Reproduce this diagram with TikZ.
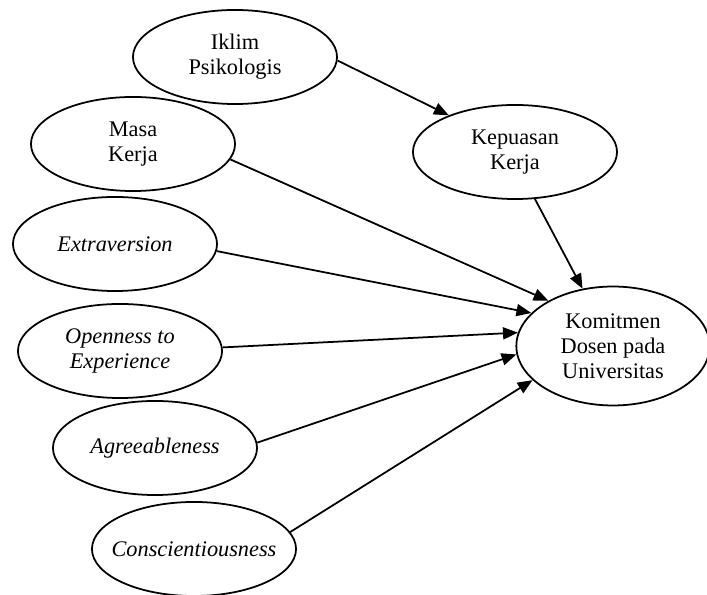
\documentclass[tikz,border=0pt]{standalone}
\usepackage{fontspec}
\setmainfont{Liberation Serif}
\usetikzlibrary{shapes.geometric,arrows.meta}

\begin{document}
\begin{tikzpicture}[x=53.8pt,y=-53.8pt,
   var/.style={ellipse,draw,line width=0.95pt,minimum width=109.8pt,minimum height=50.6pt,
      inner xsep=-6pt,inner ysep=0pt,align=center,font=\fontsize{12pt}{13.5pt}\selectfont},
   link/.style={line width=0.95pt,-{Triangle[length=8pt,width=6.5pt]}}]
   
   \useasboundingbox (0,0) rectangle (7.07,5.95);
   
   \node (IklimPsikologis) at (2.35,0.57) [var] {Iklim\\Psikologis};
   \node (MasaKerja) at (1.33,1.44) [var] {Masa\\Kerja};
   \node (KepuasanKerja) at (5.15,1.52) [var] {Kepuasan\\Kerja};
   
   \node (Extraversion) at (1.15,2.44) [var] {\textit{Extraversion}};
   \node (Openness) at (1.20,3.51) [var] {\textit{Openness to}\\\textit{Experience}};
   \node (Agreeableness) at (1.55,4.48) [var] {\textit{Agreeableness}};
   \node (Conscientiousness) at (1.94,5.49) [var] {\textit{Conscientiousness}};
   
   \node (Komitmen) at (6.13,3.46) [var,minimum width=104pt,minimum height=64pt] {Komitmen\\Dosen pada\\Universitas};

   \draw [link] (IklimPsikologis.-2) -- (KepuasanKerja.151);
   \draw [link] (KepuasanKerja.-67) -- (Komitmen.118);
   \draw [link] (MasaKerja.-9) -- (Komitmen.145);

   \draw [link] (Extraversion.-4) -- (Komitmen.158);
   \draw [link] (Openness.2) -- (Komitmen.172);
   \draw [link] (Agreeableness.3) -- (Komitmen.185);
   \draw [link] (Conscientiousness.10) -- (Komitmen.203);
   
   \end{tikzpicture}
\end{document}
